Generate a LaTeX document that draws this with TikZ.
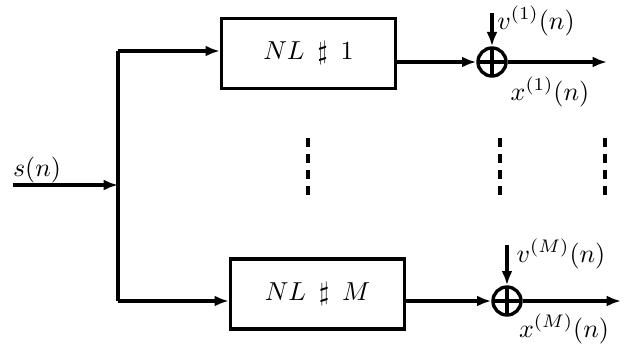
\documentclass[tikz,border=0pt]{standalone}
\usetikzlibrary{arrows.meta}
\begin{document}
\begin{tikzpicture}[x=0.385pt,y=-0.385pt,
  line width=1.3pt,
  arr/.style={-{Latex[length=5.5pt,width=4.2pt]}},
  nlbox/.style={draw,rectangle,minimum width=67pt,minimum height=27pt,inner sep=0pt},
  sumnode/.style={draw,circle,minimum size=10.8pt,inner sep=0pt,
    path picture={\draw[line width=1.2pt] (path picture bounding box.north) -- (path picture bounding box.south)
      (path picture bounding box.west) -- (path picture bounding box.east);}},
  lbl/.style={inner sep=0pt}]
\useasboundingbox (0,0) rectangle (624,346);
% input
\coordinate (in) at (13,185);
\coordinate (j) at (118,185);
\coordinate (jt) at (118,51);
\coordinate (jb) at (118,301);
\node[lbl] (sn) at (37,170) {$s(n)$};
\draw[arr] (in) -- (j);
\draw (jt) -- (jb);
% boxes
\node[nlbox] (b1) at (308.5,53.5) {$N L \enspace\sharp\enspace 1$};
\node[nlbox] (b2) at (317.5,294) {$N L \enspace\sharp\enspace M$};
\draw[arr] (jt) -- (jt -| b1.west);
\draw[arr] (jb) -- (jb -| b2.west);
% summing nodes
\node[sumnode] (c1) at (492,62) {};
\node[sumnode] (c2) at (507,301) {};
\draw[arr] (b1.east |- c1.center) -- (c1.west);
\draw[arr] (b2.east |- c2.center) -- (c2.west);
\coordinate (o1) at (607,62);
\coordinate (o2) at (621,301);
\draw[arr] (c1.east) -- (o1);
\draw[arr] (c2.east) -- (o2);
\coordinate (v1) at (492,13);
\coordinate (v2) at (507,245);
\draw[arr] (v1) -- (c1.north);
\draw[arr] (v2) -- (c2.north);
\node[lbl] (lv1) at (536,21) {$v^{(1)}(n)$};
\node[lbl] (lx1) at (550,92) {$x^{(1)}(n)$};
\node[lbl] (lv2) at (561,254) {$v^{(M)}(n)$};
\node[lbl] (lx2) at (564,329) {$x^{(M)}(n)$};
% dashed continuation marks
\foreach \xx/\nm in {308/d1,500/d2,605/d3}{
  \coordinate (\nm t) at (\xx,138);
  \coordinate (\nm b) at (\xx,197);
  \draw[dash pattern=on 3.5pt off 2.7pt] (\nm t) -- (\nm b);
}
\end{tikzpicture}
\end{document}
